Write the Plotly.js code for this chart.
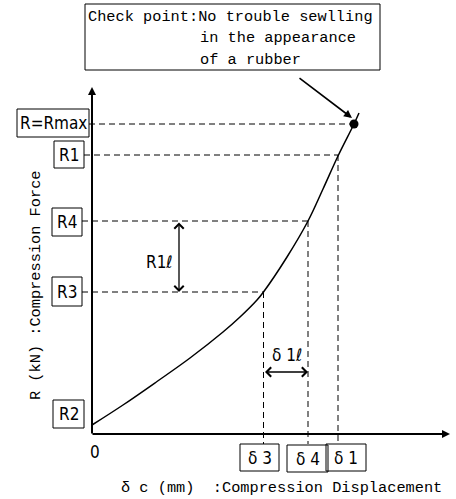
<!DOCTYPE html>
<html>
<head>
<meta charset="utf-8">
<script src="https://cdn.plot.ly/plotly-3.0.1.min.js"></script>
<style>html,body{margin:0;padding:0;background:#fff;}#chart{width:456px;height:499px;}</style>
</head>
<body>
<div id="chart"></div>
<script>
// ---- data (schematic units: origin at the axes corner) ----
const curveX = [0, 31, 65, 98, 131, 148, 165, 171.5, 195, 216, 231, 246, 262, 267];
const curveY = [9, 29, 52.5, 76, 102, 117, 134, 142, 177, 213, 245, 278, 310, 321];

const rLabels = ['R=Rmax', 'R1', 'R4', 'R3', 'R2'];
const rValues = [310, 279, 213, 142, 9];
const dLabels = ['δ 1', 'δ 4', 'δ 3'];
const dValues = [246, 216, 171.5];
const maxPointX = [262];
const maxPointY = [310];

const yTitle = 'R (kN) :Compression Force';
const xTitle = 'δ c (mm)  :Compression Displacement';
const noteLines = ['Check point:No trouble sewlling', 'in the appearance', 'of a rubber'];
const rIntervalLabel = 'R1ℓ';
const dIntervalLabel = 'δ 1ℓ';
const originLabel = '0';

// ---- layout geometry ----
const MONO = 'Liberation Mono, DejaVu Sans Mono, monospace';
const SANS = 'Liberation Sans Narrow, DejaVu Sans Condensed, Liberation Sans, Arial, sans-serif';
const black = '#000';

const rBoxes = [
  {x0: -75, x1: -3, yc: 311, h: 14},
  {x0: -38, x1: -8, yc: 279.5, h: 13.5},
  {x0: -40, x1: -10, yc: 212, h: 14},
  {x0: -40, x1: -10, yc: 142.5, h: 14.5},
  {x0: -39, x1: -8, yc: 20, h: 14}
];
const dBoxes = [
  {x0: 234, x1: 274, y0: -37, y1: -10},
  {x0: 195, x1: 236, y0: -38, y1: -11},
  {x0: 148, x1: 187, y0: -37, y1: -10}
];
const dashStartX = [-3, -8, -10, -10];

const shapes = [];
const annotations = [];

// horizontal dashed guides from the R labels to the curve
const hEnd = [maxPointX[0], dValues[0], dValues[1], dValues[2]];
for (let i = 0; i < 4; i++) {
  shapes.push({type: 'line', xref: 'x', yref: 'y', x0: dashStartX[i], x1: hEnd[i],
    y0: rValues[i], y1: rValues[i], line: {color: black, width: 1, dash: '6px,4px'}});
}
// vertical dashed guides from the curve down to the δ labels
const dY = [rValues[1], rValues[2], rValues[3]];
for (let i = 0; i < 3; i++) {
  shapes.push({type: 'line', xref: 'x', yref: 'y', x0: dValues[i], x1: dValues[i],
    y0: dY[i], y1: -10, line: {color: black, width: 1, dash: '6px,4px'}});
}
// R label boxes and texts
rLabels.forEach((t, i) => {
  const b = rBoxes[i];
  shapes.push({type: 'rect', xref: 'x', yref: 'y', x0: b.x0, x1: b.x1, y0: b.yc - b.h, y1: b.yc + b.h,
    line: {color: black, width: 1}, fillcolor: 'rgba(0,0,0,0)'});
  annotations.push({xref: 'x', yref: 'y', x: (b.x0 + b.x1) / 2, y: b.yc, text: t, showarrow: false,
    font: {family: SANS, size: 17, color: black}, xanchor: 'center', yanchor: 'middle'});
});
// δ label boxes and texts
dLabels.forEach((t, i) => {
  const b = dBoxes[i];
  shapes.push({type: 'rect', xref: 'x', yref: 'y', x0: b.x0, x1: b.x1, y0: b.y0, y1: b.y1,
    line: {color: black, width: 1}, fillcolor: 'rgba(0,0,0,0)'});
  annotations.push({xref: 'x', yref: 'y', x: (b.x0 + b.x1) / 2, y: (b.y0 + b.y1) / 2, text: t, showarrow: false,
    font: {family: SANS, size: 17, color: black}, xanchor: 'center', yanchor: 'middle'});
});
// note box
shapes.push({type: 'rect', xref: 'x', yref: 'y', x0: -7, x1: 288, y0: 364, y1: 430,
  line: {color: black, width: 1}, fillcolor: 'rgba(0,0,0,0)'});
const noteX = [-5, 107, 107];
const noteY = [417, 396, 374];
noteLines.forEach((t, i) => {
  annotations.push({xref: 'x', yref: 'y', x: noteX[i], y: noteY[i], text: t, showarrow: false,
    font: {family: MONO, size: 15.3, color: black}, xanchor: 'left', yanchor: 'middle', borderpad: 0});
});
// arrow from note to the max point
annotations.push({xref: 'x', yref: 'y', axref: 'x', ayref: 'y', x: maxPointX[0] - 2, y: maxPointY[0] + 6,
  ax: 206, ay: 357, text: '', showarrow: true, arrowhead: 2, arrowsize: 1, arrowwidth: 1.6,
  arrowcolor: black, standoff: 0});
// axes arrows
annotations.push({xref: 'x', yref: 'y', axref: 'x', ayref: 'y', x: 0, y: 347, ax: 0, ay: -1,
  text: '', showarrow: true, arrowhead: 2, arrowsize: 0.8, arrowwidth: 2, arrowcolor: black, standoff: 0});
annotations.push({xref: 'x', yref: 'y', axref: 'x', ayref: 'y', x: 358, y: 0, ax: -1, ay: 0,
  text: '', showarrow: true, arrowhead: 2, arrowsize: 0.8, arrowwidth: 2, arrowcolor: black, standoff: 0});
// interval arrows (double headed)
annotations.push({xref: 'x', yref: 'y', axref: 'x', ayref: 'y', x: 87, y: rValues[3], ax: 87, ay: rValues[2],
  text: '', showarrow: true, arrowhead: 4, startarrowhead: 4, arrowside: 'end+start', arrowsize: 1.4,
  startarrowsize: 1.4, arrowwidth: 1.3, arrowcolor: black, standoff: 0, startstandoff: 0});
annotations.push({xref: 'x', yref: 'y', axref: 'x', ayref: 'y', x: dValues[1], y: 62, ax: dValues[2], ay: 62,
  text: '', showarrow: true, arrowhead: 4, startarrowhead: 4, arrowside: 'end+start', arrowsize: 1.4,
  startarrowsize: 1.4, arrowwidth: 1.3, arrowcolor: black, standoff: 0, startstandoff: 0});
annotations.push({xref: 'x', yref: 'y', x: 67, y: 172, text: rIntervalLabel, showarrow: false,
  font: {family: SANS, size: 17, color: black}});
annotations.push({xref: 'x', yref: 'y', x: 195, y: 79, text: dIntervalLabel, showarrow: false,
  font: {family: SANS, size: 17, color: black}});
annotations.push({xref: 'x', yref: 'y', x: 2.5, y: -18, text: originLabel, showarrow: false,
  font: {family: SANS, size: 17, color: black}});
// axis titles
annotations.push({xref: 'x', yref: 'y', x: -56, y: 149, text: yTitle, textangle: -90, showarrow: false,
  font: {family: MONO, size: 15.3, color: black}});
annotations.push({xref: 'x', yref: 'y', x: 120 - 92, y: -54, text: xTitle, showarrow: false, xanchor: 'left',
  font: {family: MONO, size: 15.3, color: black}, borderpad: 0});

const traces = [
  {x: curveX, y: curveY, type: 'scatter', mode: 'lines', line: {color: black, width: 1.5, shape: 'spline', smoothing: 1},
   hoverinfo: 'skip', cliponaxis: false},
  {x: maxPointX, y: maxPointY, type: 'scatter', mode: 'markers', marker: {color: black, size: 9},
   hoverinfo: 'skip', cliponaxis: false}
];

const layout = {
  width: 456, height: 499,
  margin: {l: 0, r: 0, t: 0, b: 0, pad: 0, autoexpand: false},
  paper_bgcolor: '#fff', plot_bgcolor: '#fff',
  showlegend: false,
  xaxis: {range: [-92, 364], visible: false, fixedrange: true},
  yaxis: {range: [-65, 434], visible: false, fixedrange: true},
  shapes: shapes,
  annotations: annotations
};

Plotly.newPlot('chart', traces, layout, {staticPlot: true, displayModeBar: false});
</script>
</body>
</html>
